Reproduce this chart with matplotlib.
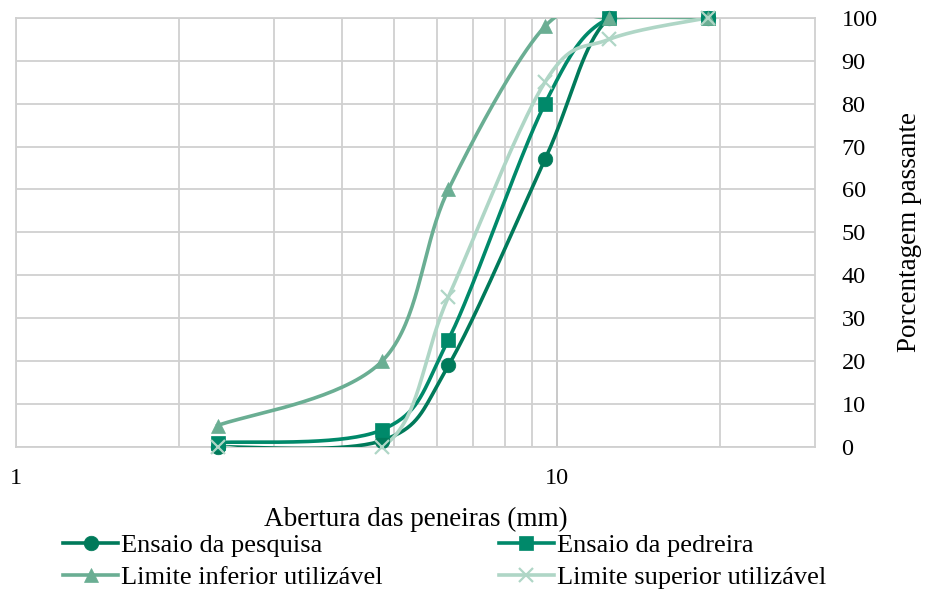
import numpy as np
import matplotlib.pyplot as plt
from matplotlib.ticker import FixedLocator, NullFormatter

plt.rcParams['font.family'] = ['Liberation Serif', 'DejaVu Serif']

# peneiras (mm)
sieves = [2.36, 4.75, 6.3, 9.5, 12.5, 19.0]

pesquisa = [0, 1.5, 19, 67, 100, 100]
pedreira = [1, 4, 25, 80, 100, 100]
lim_inf = [5, 20, 60, 98, 100, 100]
lim_sup = [0, 0, 35, 85, 95, 100]

names = ['Ensaio da pesquisa', 'Ensaio da pedreira',
         'Limite inferior utilizável', 'Limite superior utilizável']
colors = ['#007A5A', '#00896A', '#6AAE93', '#AFD6C6']
markers = ['o', 's', '^', 'x']


def smooth(xs, ys, n=40):
    # catmull-rom like excel smoothing, in log x
    u = np.log10(xs)
    v = np.array(ys, dtype=float)
    pts = np.column_stack([u, v])
    pts = np.vstack([pts[0], pts, pts[-1]])
    out = []
    for i in range(1, len(pts) - 2):
        p0, p1, p2, p3 = pts[i - 1], pts[i], pts[i + 1], pts[i + 2]
        c1 = p1 + (p2 - p0) / 6
        c2 = p2 - (p3 - p1) / 6
        t = np.linspace(0, 1, n)[:, None]
        b = ((1 - t) ** 3) * p1 + 3 * ((1 - t) ** 2) * t * c1 + 3 * (1 - t) * t ** 2 * c2 + t ** 3 * p2
        out.append(b)
    out = np.vstack(out)
    return 10 ** out[:, 0], out[:, 1]


fig = plt.figure(figsize=(9.26, 5.92), dpi=100)
ax = fig.add_axes([0.0173, 0.245, 0.863, 0.725])

series = [pesquisa, pedreira, lim_inf, lim_sup]
handles = []
for ys, c, m, nm in zip(series, colors, markers, names):
    sx, sy = smooth(sieves, ys)
    ax.plot(sx, sy, color=c, lw=2.6, zorder=3)
    ms = 10.5 if m != 'x' else 10
    mew = 1.6 if m == 'x' else 0.5
    ax.plot(sieves, ys, ls='none', marker=m, color=c, ms=ms, mew=mew,
            zorder=4, clip_on=False)
    h, = ax.plot([], [], color=c, lw=2.6, marker=m, ms=ms, mew=mew, label=nm)
    handles.append(h)

ax.set_xscale('log')
ax.set_xlim(1, 30)
ax.set_ylim(0, 100)

ax.xaxis.set_major_locator(FixedLocator([1, 10]))
ax.xaxis.set_minor_locator(FixedLocator([2, 3, 4, 5, 6, 7, 8, 9, 20]))
ax.xaxis.set_minor_formatter(NullFormatter())
ax.set_xticklabels(['1', '10'])
ax.set_yticks(np.arange(0, 101, 10))
ax.yaxis.tick_right()
ax.yaxis.set_label_position('right')
ax.tick_params(axis='both', which='both', length=0, labelsize=17.5, colors='black')
ax.tick_params(axis='y', pad=19)
ax.tick_params(axis='x', pad=15)
for lbl in ax.get_yticklabels():
    lbl.set_horizontalalignment('left')

ax.grid(True, which='both', color='#D0D0D0', lw=1.3, zorder=0)
ax.axvline(10, color='#8C8C8C', lw=1.3, zorder=1)
for s in ax.spines.values():
    s.set_color('#D0D0D0')
    s.set_linewidth(1.3)

ax.set_xlabel('Abertura das peneiras (mm)', fontsize=19.5, labelpad=13)
ax.set_ylabel('Porcentagem passante', fontsize=19.5, labelpad=14)

# row order like the original: pesquisa, pedreira / inferior, superior
order = [0, 2, 1, 3]
fig.legend([handles[i] for i in order], [names[i] for i in order],
           loc='upper left', bbox_to_anchor=(0.068, 1 - 534 / 592), bbox_transform=fig.transFigure,
           ncol=2, frameon=False, fontsize=19, handlelength=2.1, handletextpad=0.1,
           columnspacing=4.4, labelspacing=0.32, borderaxespad=0, borderpad=0)

fig.savefig('out.png', dpi=100)
